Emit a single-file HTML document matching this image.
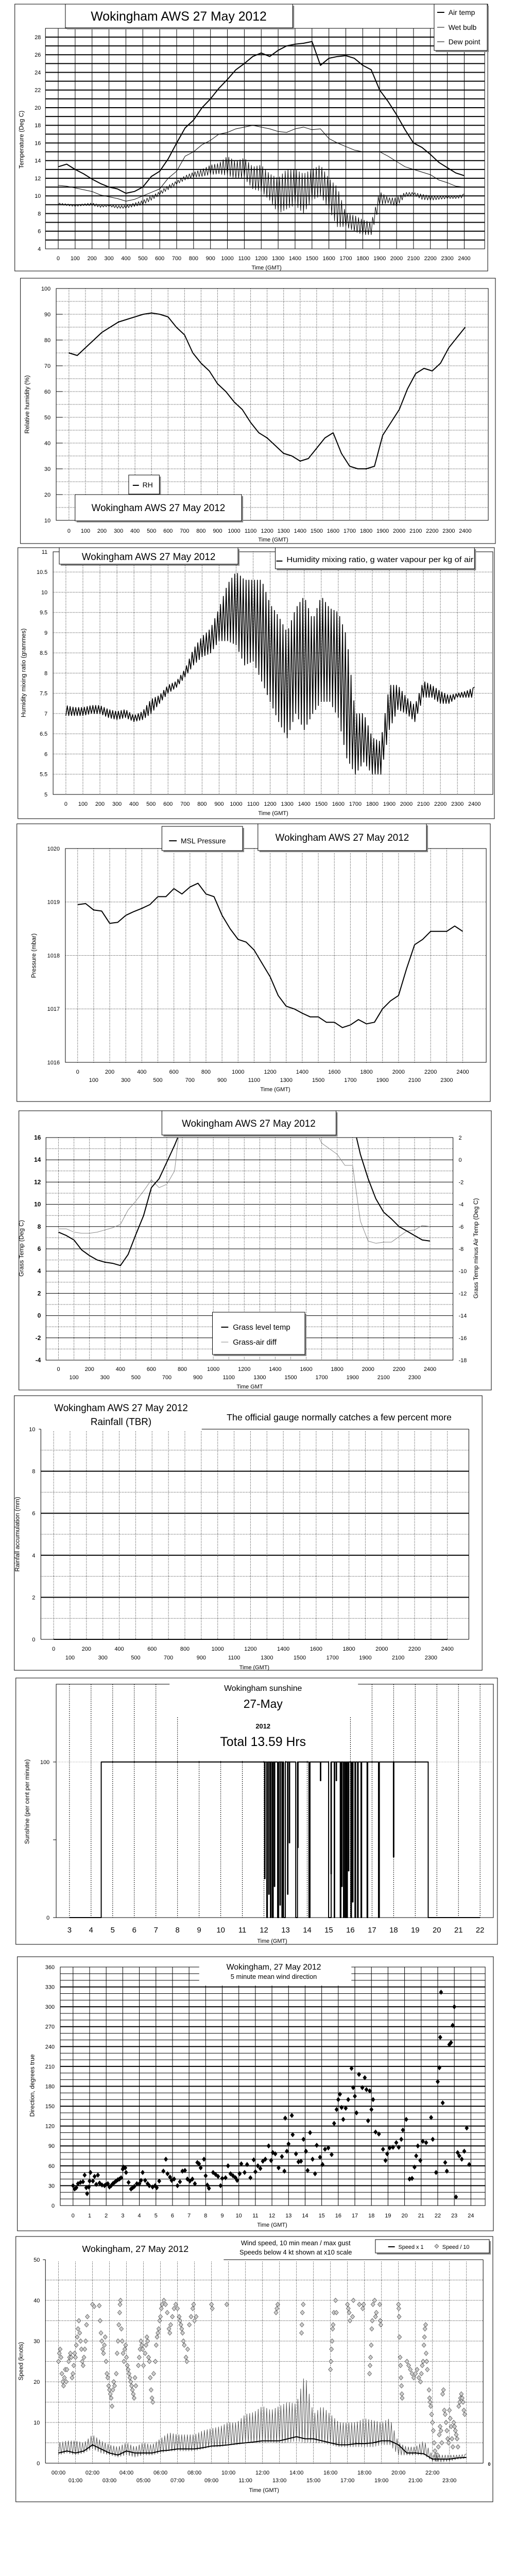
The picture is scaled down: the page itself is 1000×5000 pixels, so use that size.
<!DOCTYPE html>
<html><head><meta charset="utf-8">
<style>
body{margin:0;background:#fff}
svg{display:block;font-family:"Liberation Sans",Arial,sans-serif}
</style></head>
<body>
<svg id="page" width="1000" height="5000" viewBox="0 0 1000 5000">
<rect x="0" y="0" width="1000" height="5000" fill="#fff"/>
</svg>
<script>
// ---------- DATA ----------
const halfHours=[0,0.5,1,1.5,2,2.5,3,3.5,4,4.5,5,5.5,6,6.5,7,7.5,8,8.5,9,9.5,10,10.5,11,11.5,12,12.5,13,13.5,14,14.5,15,15.5,16,16.5,17,17.5,18,18.5,19,19.5,20,20.5,21,21.5,22,22.5,23,23.5,24];
const timeTicks=[0,100,200,300,400,500,600,700,800,900,1000,1100,1200,1300,1400,1500,1600,1700,1800,1900,2000,2100,2200,2300,2400];
// Panel 1 temperature
const tempTicks=[4,6,8,10,12,14,16,18,20,22,24,26,28];
const airTemp=[13.3,13.6,13.0,12.5,11.9,11.4,11.0,10.8,10.3,10.5,11.0,12.2,12.8,14.2,16.0,17.7,18.6,20.0,21.0,22.2,23.2,24.3,25.0,25.8,26.2,25.8,26.5,27.0,27.2,27.3,27.5,24.8,25.6,25.8,25.9,25.6,24.8,24.3,22.0,20.7,19.2,17.5,16.0,15.5,14.7,13.8,13.2,12.6,12.3];
const wetBulb=[11.2,11.1,10.9,10.7,10.5,10.1,9.9,9.7,9.4,9.6,10.0,10.4,10.8,12.0,12.8,14.5,15.0,15.8,16.3,17.0,17.2,17.6,17.8,18.0,17.8,17.6,17.3,17.2,17.6,17.8,17.5,17.6,16.5,16.0,15.6,15.2,15.0,15.0,15.0,14.5,13.9,13.3,13.0,12.7,12.4,11.8,11.5,11.1,11.0];
const dewHi=[9.2,9.1,9.0,9.1,9.2,9.0,9.0,8.9,8.9,9.2,9.5,10.0,10.5,11.2,11.7,12.3,12.7,13.0,13.5,13.7,14.5,13.9,14.3,13.3,13.5,12.5,12.0,13.0,13.0,12.5,13.0,13.5,12.0,11.0,8.0,7.8,7.3,7.0,10.5,9.8,9.8,10.4,10.4,10.2,10.0,10.0,10.0,10.0,10.2];
const dewLo=[9.0,8.9,8.8,8.9,8.9,8.7,8.8,8.6,8.6,8.8,9.0,9.5,10.1,10.7,11.3,11.8,12.1,12.2,12.4,12.5,12.3,12.0,12.0,10.8,10.5,9.5,8.0,8.5,9.0,8.0,9.5,10.0,8.5,6.5,6.5,6.0,5.6,5.6,9.0,9.2,8.8,9.9,10.1,9.6,9.5,9.6,9.7,9.7,9.8];
// Panel 2 RH
const rhTicks=[10,20,30,40,50,60,70,80,90,100];
const relHum=[75,74,77,80,83,85,87,88,89,90,90.5,90,89,85,82,75,71,68,63,60,56,53,48,44,42,39,36,35,33,34,38,42,44,36,31,30,30,31,43,48,53,61,67,69,68,71,77,81,85];
// Panel 3 mixing ratio
const mixTicks=[5,5.5,6,6.5,7,7.5,8,8.5,9,9.5,10,10.5,11];
const mixHi=[7.2,7.15,7.15,7.2,7.2,7.1,7.05,7.1,6.95,7.05,7.35,7.45,7.7,7.8,8.1,8.6,8.9,9.1,9.6,10.2,10.5,10.3,10.3,10.3,9.7,9.4,9.0,9.6,9.9,9.3,9.9,9.6,9.5,8.9,7.0,7.0,6.4,6.3,7.7,7.7,7.4,7.2,7.8,7.7,7.55,7.45,7.5,7.55,7.65];
const mixLo=[6.95,6.95,6.95,7.0,7.0,6.9,6.85,6.9,6.8,6.85,7.0,7.25,7.5,7.65,7.9,8.2,8.4,8.5,8.8,8.8,8.7,8.2,8.3,7.8,7.3,6.8,6.4,7.0,6.6,7.0,7.3,7.3,6.9,5.9,5.5,5.8,5.5,5.5,6.6,7.1,7.0,6.8,7.4,7.4,7.25,7.25,7.4,7.4,7.4];
// Panel 4 pressure
const presTicks=[1016,1017,1018,1019,1020];
const pressure=[1018.95,1018.97,1018.85,1018.83,1018.6,1018.62,1018.75,1018.82,1018.88,1018.95,1019.1,1019.1,1019.25,1019.15,1019.28,1019.35,1019.15,1019.1,1018.75,1018.5,1018.3,1018.25,1018.1,1017.85,1017.6,1017.25,1017.05,1017.0,1016.92,1016.85,1016.85,1016.75,1016.75,1016.65,1016.7,1016.8,1016.72,1016.75,1017.0,1017.15,1017.25,1017.75,1018.2,1018.3,1018.45,1018.45,1018.45,1018.55,1018.45];
// Panel 5 grass
const grassTicks=[-4,-2,0,2,4,6,8,10,12,14,16];
const diffTicks=[-18,-16,-14,-12,-10,-8,-6,-4,-2,0,2];
const grassTemp=[7.5,7.2,6.8,5.9,5.4,5.0,4.8,4.7,4.5,5.5,7.3,9.0,11.5,12.3,13.8,15.3,17,18,19,20,20,20,20,20,20,20,20,20,20,20,20,20,20,20,20,20,20,20,17.5,14.5,12.3,10.5,9.3,8.7,8.0,7.6,7.2,6.8,6.7];
const grassDiff=[-6.2,-6.2,-6.5,-6.6,-6.6,-6.5,-6.3,-6.1,-5.8,-4.5,-3.7,-2.8,-1.8,-2.5,-2.2,-1.0,5,5,5,5,5,5,5,5,5,5,5,5,5,5,5,5,5,3,1.5,1.0,0.5,-0.5,-0.5,-5.5,-7.3,-7.5,-7.4,-7.4,-6.9,-6.4,-6.3,-5.9,-6.0];
// Panel 6 rain
const rainTicks=[0,2,4,6,8,10];
const rainTotal=[0,0,0,0,0,0,0,0,0,0,0,0,0,0,0,0,0,0,0,0,0,0,0,0,0,0,0,0,0,0,0,0,0,0,0,0,0,0,0,0,0,0,0,0,0,0,0,0,0];
// Panel 7 sunshine
const sunHourTicks=[3,4,5,6,7,8,9,10,11,12,13,14,15,16,17,18,19,20,21,22];
const sunRise=4.47, sunSet=19.6;
const dipHours=[12.03,12.13,12.22,12.3,12.39,12.48,12.63,12.74,12.83,12.91,13.09,13.17,13.47,13.56,14.08,14.61,14.99,15.1,15.25,15.34,15.53,15.6,15.68,15.76,15.83,15.91,16.02,16.1,16.21,16.33,16.49,16.77,17.3,17.99];
const dipValues=[25,0,15,0,0,20,0,8,0,0,15,48,0,45,0,88,0,28,0,88,0,20,0,0,0,30,0,10,0,0,0,0,0,39];
const dipDurations=[0.02,0.03,0.02,0.03,0.04,0.02,0.05,0.02,0.03,0.08,0.02,0.02,0.08,0.02,0.05,0.02,0.12,0.02,0.02,0.02,0.03,0.02,0.03,0.03,0.03,0.02,0.03,0.02,0.03,0.03,0.03,0.03,0.04,0.02];
// Panel 8 wind direction
const dirTicks=[0,30,60,90,120,150,180,210,240,270,300,330,360];
const hourTicks=[0,1,2,3,4,5,6,7,8,9,10,11,12,13,14,15,16,17,18,19,20,21,22,23,24];
const dirHours=[0.0,0.1,0.2,0.3,0.45,0.6,0.7,0.8,0.85,0.95,
1.0,1.05,1.2,1.3,1.4,1.5,1.6,1.75,1.9,2.0,
2.1,2.2,2.3,2.4,2.5,2.6,2.7,2.8,2.9,3.0,
3.05,3.15,3.2,3.35,3.5,3.6,3.7,3.85,4.0,4.1,
4.2,4.35,4.5,4.6,4.8,4.95,5.05,5.2,5.45,5.6,
5.7,5.85,5.95,6.1,6.3,6.45,6.6,6.75,6.9,7.05,
7.2,7.35,7.5,7.6,7.7,7.9,8.0,8.1,8.2,8.45,
8.6,8.75,8.9,9.0,9.2,9.35,9.5,9.65,9.8,9.9,
10.05,10.15,10.35,10.5,10.7,10.9,11.0,11.15,11.3,11.45,
11.6,11.8,11.95,12.05,12.2,12.4,12.6,12.75,12.8,12.9,
13.0,13.2,13.25,13.45,13.6,13.75,13.9,14.05,14.15,14.3,
14.45,14.6,14.7,14.9,15.05,15.2,15.4,15.6,15.75,15.9,
16.0,16.1,16.2,16.3,16.45,16.6,16.8,16.9,17.0,17.1,
17.25,17.45,17.6,17.7,17.8,17.9,18.0,18.1,18.25,18.45,
18.7,18.85,18.95,19.1,19.3,19.5,19.65,19.8,19.9,20.1,
20.3,20.45,20.6,20.7,20.8,20.95,21.1,21.3,21.6,21.7,
21.9,22.0,22.1,22.15,22.2,22.3,22.45,22.55,22.7,22.8,
22.9,23.0,23.1,23.2,23.3,23.45,23.6,23.75,23.9];
const dirDegrees=[30,25,27,33,35,36,46,27,18,28,
37,50,37,44,32,46,34,31,30,32,
33,28,30,33,35,37,39,40,42,55,
58,57,50,35,25,27,29,33,33,38,
50,38,33,30,28,30,27,37,52,70,
48,43,38,40,30,36,52,53,40,37,
40,33,65,63,57,70,45,31,26,50,
47,44,30,41,42,60,48,45,42,38,
48,63,50,62,42,69,51,60,56,67,
70,90,68,80,78,57,74,52,132,82,
93,136,107,78,66,67,100,82,53,110,
70,48,91,73,62,85,87,77,124,145,
160,168,148,130,147,160,207,178,165,140,
198,178,193,175,128,173,145,160,111,108,
85,68,78,87,88,95,88,100,114,130,
40,41,58,75,90,68,97,95,133,100,
50,187,208,254,322,155,65,52,243,246,
272,300,13,80,75,70,82,117,62];
// Panel 9 wind speed
const speedTicks=[0,10,20,30,40,50];
const clockLabels=['00:00','01:00','02:00','03:00','04:00','05:00','06:00','07:00','08:00','09:00','10:00','11:00','12:00','13:00','14:00','15:00','16:00','17:00','18:00','19:00','20:00','21:00','22:00','23:00'];
const windMean=[2.5,3,2.5,3,4.5,3.5,2.5,2,3,2.5,2.5,2.5,3.0,3.2,3.5,3.5,3.5,3.8,4.2,4.3,4.5,4.8,5,5.2,5.5,5.5,5.5,6,6.5,6,6,5.5,5,4.5,4.5,4.8,4.8,5,5.5,5.5,4.5,2.5,2.5,2.3,1.0,1.0,1.0,1.3,1.4];
const gustHi=[5,5.5,5.5,5,7,5.5,4.5,4,5,4,5,4.5,6,7.5,7,7,7,8,8.5,9,10,10,12,12.5,14,13,14,15,14.5,22,12,14,12,10,10,10,11,10.5,10,11,5,4,4,5.5,2,2,2,2,2.2];
const gustLo=[2,2.5,2,2.5,3.5,2.5,2,1.5,2,1.5,2,2,2.5,3,3,3,3,3.5,4,4,4.5,4.5,5,5,5,5,5,5,5.5,5,5,5,4.5,4,4,4,4,4,4.5,4.5,2,2,2,2,0.5,0.3,0.5,1,1.2];
const lightHours=[0.0,0.05,0.1,0.15,0.2,0.25,0.3,0.35,0.4,0.45,
0.5,0.6,0.65,0.7,0.75,0.8,0.85,0.9,0.95,1.0,
1.05,1.1,1.15,1.2,1.25,1.3,1.35,1.4,1.45,1.5,
1.55,1.6,1.65,1.7,2.0,2.1,2.4,2.45,2.5,2.55,
2.6,2.65,2.7,2.75,2.8,2.85,2.9,2.95,3.0,3.05,
3.1,3.15,3.2,3.25,3.3,3.4,3.45,3.5,3.55,3.6,
3.62,3.65,3.7,3.75,3.8,3.85,3.9,3.95,4.0,4.05,
4.1,4.15,4.2,4.25,4.3,4.35,4.4,4.45,4.5,4.55,
4.7,4.75,4.8,4.85,4.9,4.95,5.0,5.1,5.15,5.2,
5.25,5.3,5.35,5.4,5.45,5.5,5.55,5.6,5.7,5.75,
5.8,5.85,5.9,5.95,6.0,6.05,6.1,6.2,6.3,6.4,
6.5,6.55,6.6,6.7,6.8,6.9,7.0,7.1,7.15,7.2,
7.25,7.3,7.35,7.4,7.5,7.55,7.6,7.7,7.8,7.9,
7.95,8.0,8.1,9.0,9.05,9.9,12.8,12.85,12.9,14.3,
14.32,14.35,14.4,16.0,16.03,16.06,16.1,16.13,16.16,16.2,
16.3,16.35,17.0,17.05,17.1,17.15,17.3,17.35,17.7,17.9,
17.95,18.3,18.33,18.36,18.4,18.43,18.46,18.5,18.6,18.65,
18.7,18.9,18.93,18.96,20.0,20.02,20.04,20.06,20.1,20.12,
20.15,20.18,20.2,20.22,20.5,20.6,20.7,20.8,20.9,21.0,
21.1,21.2,21.3,21.35,21.4,21.45,21.5,21.53,21.56,21.6,
21.63,21.66,21.7,21.8,21.83,21.86,21.9,21.95,22.0,22.05,
22.1,22.15,22.2,22.25,22.3,22.35,22.4,22.45,22.5,22.55,
22.6,22.65,22.7,22.75,22.8,22.85,22.9,22.95,23.0,23.05,
23.1,23.15,23.2,23.25,23.3,23.35,23.4,23.45,23.5,23.55,
23.6,23.65,23.7,23.75,23.8,23.85,23.9];
const lightSpeedX10=[25,27,28,26,22,20,19,21,23,20,
23,25,26,27,26,21,22,24,27,26,
29,31,33,35,32,30,28,25,24,26,
28,30,34,36,39,38.5,38.7,35,32,30,
28,27,29,31,25,22,21,19,18,17,
16,14,18,20,19,22,27,30,34,37,
39,40,33,30,27,25,28,29,26,24,
23,22,21,20,19,18,17,16,21,19,
24,26,28,30,29,28,24,27,29,31,
30,26,25,21,18,16,15,22,25,29,
31,32,33,35,36,38,39,40,39,37,
33,32,34,36,38,39,38,36,35,34,
33,32,30,29,26,25,28,34,36,38,
39,35,36,39,38,39,37,38,39,32,
34,37,39,23,25,28,30,33,34,37,
40,37,39,38,37,35,36,40,39,38,
39,22,24,26,29,33,35,39,40,36,
37,39,35,34,39,38,36,31,26,24,
21,19,17,16,25,24,23,22,21,22,
23,21,20,22,24,25,29,31,33,34,
27,25,23,18,16,15,14,12,10,8,
5,3,2,1,2,4,7,9,8,5,
17,18,13,12,10,8,6,5,13,11,
9,6,4,10,9,8,7,6,4,14,
15,16,17,16,15,13,12];

// ---------- HELPERS ----------
const NS='http://www.w3.org/2000/svg';
const svgRoot=document.getElementById('page');
const root=document.createElementNS(NS,'g');
root.setAttribute('transform','scale(0.9917 1)');


svgRoot.appendChild(root);
function mk(tag,attrs,parent,name){
  const e=document.createElementNS(NS,tag);
  for(const k in attrs) e.setAttribute(k,attrs[k]);
  
  
  (parent||root).appendChild(e);
  return e;
}
const defs=mk('defs',{},root,'clip-definitions');
function clipRect(id,x,y,w,h){const c=mk('clipPath',{id:id},defs,id);mk('rect',{x:x,y:y,width:w,height:h},c,id+'-rect');}
function grp(name){return mk('g',{},root,name);}
function rect(p,x,y,w,h,name,fill,stroke,sw){return mk('rect',{x:x,y:y,width:w,height:h,fill:fill||'#fff',stroke:stroke||'#000','stroke-width':sw||1},p,name);}
function shadowBox(p,x,y,w,h,name){mk('rect',{x:x+3,y:y+3,width:w,height:h,fill:'#888'},p,name+'-shadow');return rect(p,x,y,w,h,name);}
function line(p,x1,y1,x2,y2,name,stroke,sw,dash){const a={x1:x1,y1:y1,x2:x2,y2:y2,stroke:stroke||'#000','stroke-width':sw||1};if(dash)a['stroke-dasharray']=dash;return mk('line',a,p,name);}
function text(p,x,y,s,size,name,anchor,extra){const t=mk('text',Object.assign({x:x,y:y,'font-size':size,'text-anchor':anchor||'middle',fill:'#000'},extra||{}),p,name);t.textContent=s;return t;}
function vtext(p,x,y,s,size,name){return text(p,x,y,s,size,name,'middle',{transform:'rotate(-90 '+x+' '+y+')'});}
function lin(d0,d1,r0,r1){return function(v){return r0+(v-d0)*(r1-r0)/(d1-d0);};}
function pathD(xs,ys,fx,fy){return xs.map(function(x,i){return (i?'L':'M')+fx(x).toFixed(1)+' '+fy(ys[i]).toFixed(1);}).join('');}
function series(p,xs,ys,fx,fy,name,stroke,sw,clip){const a={d:pathD(xs,ys,fx,fy),fill:'none',stroke:stroke,'stroke-width':sw,'stroke-linejoin':'round'};if(clip)a['clip-path']='url(#'+clip+')';return mk('path',a,p,name);}
function zig(xs,lo,hi,sub){const X=[],Y=[];for(let i=0;i<xs.length-1;i++){for(let k=0;k<sub;k++){const f=k/sub;X.push(xs[i]+f*(xs[i+1]-xs[i]));const l=lo[i]+f*(lo[i+1]-lo[i]);const h=hi[i]+f*(hi[i+1]-hi[i]);Y.push(k%2?h:l);}}X.push(xs[xs.length-1]);Y.push(hi[hi.length-1]);return [X,Y];}
const DOT='1,2';

// ---------- PANEL 1: TEMPERATURE ----------
(function(){
const g=grp('temperature-panel');
rect(g,29,8,926,518,'temperature-panel-border');
const X=lin(0,24,114,909), Y=lin(4,28,483,72);
rect(g,89,55,860,428,'temperature-plot-area');
clipRect('clip-temp',89,55,860,428);
for(let v=5;v<=28;v++) line(g,89,Y(v),949,Y(v),'temp-gridline-'+v,'#000',2);
timeTicks.forEach(function(t){line(g,X(t/100),55,X(t/100),483,'temp-vgrid-'+t,'#000',1);});
tempTicks.forEach(function(v){text(g,80,Y(v)+4,String(v),11,'temp-ytick-'+v,'end');});
timeTicks.forEach(function(t){text(g,X(t/100),505,String(t),11,'temp-xtick-'+t);});
text(g,522,523,'Time (GMT)',11,'temp-x-axis-title');
vtext(g,46,271,'Temperature (Deg C)',12,'temp-y-axis-title');
const dz=zig(halfHours,dewLo,dewHi,6);
series(g,dz[0],dz[1],X,Y,'dew-point-line','#000',1,'clip-temp');
series(g,halfHours,wetBulb,X,Y,'wet-bulb-line','#000',1,'clip-temp');
series(g,halfHours,airTemp,X,Y,'air-temp-line','#000',2,'clip-temp');
shadowBox(g,128,8,445,46,'temperature-title-box');
text(g,350,40,'Wokingham AWS 27 May 2012',25,'temperature-title');
shadowBox(g,850,8,104,90,'temperature-legend');
line(g,856,24,870,24,'legend-air-temp-swatch','#000',2);
text(g,878,29,'Air temp',14,'legend-air-temp','start');
line(g,856,53,870,53,'legend-wet-bulb-swatch','#000',1);
text(g,878,58,'Wet bulb',14,'legend-wet-bulb','start');
line(g,856,81,870,81,'legend-dew-point-swatch','#000',1);
text(g,878,86,'Dew point',14,'legend-dew-point','start');
})();

// ---------- PANEL 2: RH ----------
(function(){
const g=grp('humidity-panel');
rect(g,40,540,930,515,'humidity-panel-border');
const X=lin(0,24,135,911), Y=lin(10,100,1010,560);
rect(g,110,560,846,450,'humidity-plot-area');
clipRect('clip-rh',110,560,846,450);
for(let v=15;v<100;v+=5) line(g,110,Y(v),956,Y(v),'rh-gridline-'+v,'#000',1,DOT);
timeTicks.forEach(function(t){line(g,X(t/100),560,X(t/100),1010,'rh-vgrid-'+t,'#000',1,DOT);});
rhTicks.forEach(function(v){line(g,110,Y(v),122,Y(v),'rh-ytick-mark-'+v,'#000',1);text(g,99,Y(v)+4,String(v),11,'rh-ytick-'+v,'end');});
timeTicks.forEach(function(t){text(g,X(t/100),1034,String(t),11,'rh-xtick-'+t);});
text(g,535,1051,'Time (GMT)',11,'rh-x-axis-title');
vtext(g,57,785,'Relative humidity (%)',12,'rh-y-axis-title');
series(g,halfHours,relHum,X,Y,'rh-line','#000',2,'clip-rh');
shadowBox(g,252,922,60,37,'rh-legend');
line(g,260,942,272,942,'rh-legend-swatch','#000',2);
text(g,279,946,'RH',14,'rh-legend-label','start');
shadowBox(g,147,960,326,51,'rh-title-box');
text(g,310,992,'Wokingham AWS 27 May 2012',19,'rh-title');
})();

// ---------- PANEL 3: MIXING RATIO ----------
(function(){
const g=grp('mixing-ratio-panel');
rect(g,35,1063,933,526,'mixing-panel-border');
const X=lin(0,24,129,929), Y=lin(5,11,1542,1071);
rect(g,104,1071,861,471,'mixing-plot-area');
clipRect('clip-mix',104,1071,861,471);
mixTicks.forEach(function(v){line(g,104,Y(v),965,Y(v),'mix-gridline-'+v,'#000',1,DOT);text(g,93,Y(v)+4,String(v),11,'mix-ytick-'+v,'end');});
timeTicks.forEach(function(t){line(g,X(t/100),1071,X(t/100),1542,'mix-vgrid-'+t,'#000',1,DOT);text(g,X(t/100),1564,String(t),11,'mix-xtick-'+t);});
text(g,535,1582,'Time (GMT)',11,'mix-x-axis-title');
vtext(g,50,1306,'Humidity mixing ratio (grammes)',12,'mix-y-axis-title');
const mz=zig(halfHours,mixLo,mixHi,6);
series(g,mz[0],mz[1],X,Y,'mixing-ratio-line','#000',1.6,'clip-mix');
shadowBox(g,116,1063,350,32,'mix-title-box');
text(g,291,1087,'Wokingham AWS 27 May 2012',19,'mix-title');
shadowBox(g,539,1063,390,41,'mix-legend');
line(g,541,1089,553,1089,'mix-legend-swatch','#000',2);
text(g,561,1091,'Humidity mixing ratio, g water vapour per kg of air',15,'mix-legend-label','start',{textLength:366,lengthAdjust:'spacingAndGlyphs'});
})();

// ---------- PANEL 4: PRESSURE ----------
(function(){
const g=grp('pressure-panel');
rect(g,33,1599,927,539,'pressure-panel-border');
const X=lin(0,24,152,906), Y=lin(1016,1020,2062,1647);
rect(g,128,1647,824,415,'pressure-plot-area');
clipRect('clip-pres',128,1647,824,415);
presTicks.forEach(function(v){line(g,128,Y(v),952,Y(v),'pres-gridline-'+v,'#000',1,DOT);text(g,117,Y(v)+4,String(v),11,'pres-ytick-'+v,'end');});
timeTicks.forEach(function(t,i){line(g,X(t/100),1647,X(t/100),2062,'pres-vgrid-'+t,'#000',1,DOT);text(g,X(t/100),(i%2?2100:2084),String(t),11,'pres-xtick-'+t);});
text(g,539,2118,'Time (GMT)',11,'pres-x-axis-title');
vtext(g,70,1855,'Pressure (mbar)',12,'pres-y-axis-title');
series(g,halfHours,pressure,X,Y,'pressure-line','#000',2,'clip-pres');
shadowBox(g,317,1604,158,47,'pressure-legend');
line(g,331,1632,346,1632,'pressure-legend-swatch','#000',2);
text(g,354,1637,'MSL Pressure',14,'pressure-legend-label','start');
shadowBox(g,505,1599,330,52,'pressure-title-box');
text(g,670,1632,'Wokingham AWS 27 May 2012',19,'pressure-title');
})();

// ---------- PANEL 5: GRASS ----------
(function(){
const g=grp('grass-panel');
rect(g,37,2156,925,542,'grass-panel-border');
const X=lin(0,24,114.5,842), Y=lin(-4,16,2640,2208), YR=lin(-18,2,2640,2208);
rect(g,90,2208,797,432,'grass-plot-area');
clipRect('clip-grass',90,2208,797,432);
for(let v=-3;v<16;v+=2) line(g,90,Y(v),887,Y(v),'grass-dotted-gridline-'+v,'#000',1,DOT);
grassTicks.forEach(function(v){line(g,90,Y(v),887,Y(v),'grass-gridline-'+v,'#000',1);text(g,80,Y(v)+4,String(v),12,'grass-ytick-'+v,'end',{'font-weight':'bold'});});
diffTicks.forEach(function(v){text(g,898,YR(v)+4,String(v),11,'grass-diff-ytick-'+v,'start');});
timeTicks.forEach(function(t,i){line(g,X(t/100),2208,X(t/100),2640,'grass-vgrid-'+t,'#000',1,DOT);text(g,X(t/100),(i%2?2677:2661),String(t),11,'grass-xtick-'+t);});
text(g,489,2695,'Time GMT',11,'grass-x-axis-title');
vtext(g,46,2423,'Grass Temp (Deg C)',12,'grass-y-axis-title');
vtext(g,936,2423,'Grass Temp minus Air Temp (Deg C)',12,'grass-diff-axis-title');
series(g,halfHours,grassDiff,X,YR,'grass-air-diff-line','#888',1,'clip-grass');
series(g,halfHours,grassTemp,X,Y,'grass-temp-line','#000',2,'clip-grass');
shadowBox(g,317,2156,341,47,'grass-title-box');
text(g,487,2187,'Wokingham AWS 27 May 2012',19,'grass-title');
shadowBox(g,416,2547,181,82,'grass-legend');
line(g,433,2576,447,2576,'grass-legend-temp-swatch','#000',2);
text(g,456,2581,'Grass level temp',15,'grass-legend-temp','start');
line(g,433,2605,447,2605,'grass-legend-diff-swatch','#888',1);
text(g,456,2610,'Grass-air diff',15,'grass-legend-diff','start');
})();

// ---------- PANEL 6: RAIN ----------
(function(){
const g=grp('rainfall-panel');
rect(g,28,2709,916,533,'rain-panel-border');
const X=lin(0,24,105,876), Y=lin(0,10,3182,2774);
line(g,80,2774,80,3182,'rain-y-axis','#000',1);
line(g,80,3182,918,3182,'rain-x-axis','#000',1);
line(g,918,2774,918,3182,'rain-right-axis','#000',1);
line(g,395,2774,918,2774,'rain-top-axis','#000',1);
line(g,76,2774,80,2774,'rain-top-tick','#000',1);
for(let v=1;v<10;v+=2) line(g,80,Y(v),918,Y(v),'rain-dotted-gridline-'+v,'#000',1,DOT);
[2,4,6,8].forEach(function(v){line(g,80,Y(v),918,Y(v),'rain-gridline-'+v,'#000',2);});
timeTicks.forEach(function(t,i){line(g,X(t/100),2778,X(t/100),3182,'rain-vgrid-'+t,'#000',1,DOT);text(g,X(t/100),(i%2?3221:3204),String(t),11,'rain-xtick-'+t);});
rainTicks.forEach(function(v){text(g,69,Y(v)+4,String(v),11,'rain-ytick-'+v,'end');});
text(g,498,3240,'Time (GMT)',11,'rain-x-axis-title');
vtext(g,38,2978,'Rainfall accumulation (mm)',12,'rain-y-axis-title');
series(g,halfHours,rainTotal,X,Y,'rain-accumulation-line','#000',2);
text(g,237,2739,'Wokingham AWS 27 May 2012',19,'rain-title');
text(g,237,2766,'Rainfall (TBR)',19,'rain-subtitle');
text(g,664,2757,'The official gauge normally catches a few percent more',18,'rain-note');
})();

// ---------- PANEL 7: SUNSHINE ----------
(function(){
const g=grp('sunshine-panel');
rect(g,31,3257,943,517,'sunshine-panel-border');
const X=lin(3,22,136,940), Y=lin(0,100,3722,3420);
rect(g,110,3269,856,453,'sunshine-plot-area');
line(g,110,Y(100),966,Y(100),'sun-gridline-100','#888',1,DOT);
sunHourTicks.forEach(function(h){line(g,X(h),3269,X(h),3722,'sun-vgrid-'+h,'#000',1,'2,2');text(g,X(h),3751,String(h),15,'sun-xtick-'+h);});
[0,50,100].forEach(function(v){line(g,104,Y(v),110,Y(v),'sun-ytick-mark-'+v,'#000',1);});
text(g,97,Y(100)+4,'100',11,'sun-ytick-100','end');
text(g,97,Y(0)+4,'0',11,'sun-ytick-0','end');
text(g,533,3771,'Time (GMT)',11,'sun-x-axis-title');
vtext(g,57,3497,'Sunshine (per cent per minute)',12,'sun-y-axis-title');
mk('rect',{x:332,y:3262,width:369,height:71,fill:'#fff'},g,'sun-title-mask');
mk('rect',{x:349,y:3262,width:336,height:156,fill:'#fff'},g,'sun-title-mask-lower');
const xs=[3,sunRise,sunRise], ys=[0,0,100];
dipHours.forEach(function(h,i){xs.push(h,h,h+dipDurations[i],h+dipDurations[i]);ys.push(100,dipValues[i],dipValues[i],100);});
xs.push(sunSet,sunSet,22);ys.push(100,0,0);
series(g,xs,ys,X,Y,'sunshine-line','#000',2);
text(g,515,3282,'Wokingham sunshine',16,'sun-title');
text(g,515,3315,'27-May',23,'sun-date');
text(g,515,3355,'2012',13,'sun-year','middle',{'font-weight':'bold'});
text(g,515,3389,'Total 13.59 Hrs',25,'sun-total');
})();

// ---------- PANEL 8: WIND DIRECTION ----------
(function(){
const g=grp('wind-direction-panel');
rect(g,34,3798,932,532,'wind-dir-panel-border');
const X=lin(0,24,143,922), Y=lin(0,360,4281,3818);
rect(g,118,3818,832,463,'wind-dir-plot-area');
for(let v=10;v<360;v+=10) line(g,118,Y(v),950,Y(v),'dir-minor-gridline-'+v,'#000',1);
dirTicks.forEach(function(v){if(v>0&&v<360)line(g,118,Y(v),950,Y(v),'dir-gridline-'+v,'#000',2);text(g,107,Y(v)+4,String(v),11,'dir-ytick-'+v,'end');});
hourTicks.forEach(function(h){line(g,X(h),3818,X(h),4281,'dir-vgrid-'+h,'#000',1);text(g,X(h),4304,String(h),11,'dir-xtick-'+h);});
text(g,533,4322,'Time (GMT)',11,'dir-x-axis-title');
vtext(g,67,4048,'Direction, degrees true',12,'dir-y-axis-title');
mk('rect',{x:390,y:3806,width:298,height:48,fill:'#fff'},g,'dir-title-mask');
text(g,536,3823,'Wokingham,  27 May 2012',16,'dir-title');
text(g,536,3841,'5 minute mean wind direction',13,'dir-subtitle');
dirHours.forEach(function(h,i){
  const cx=X(h), cy=Y(dirDegrees[i]);
  const d=mk('path',{d:'M'+cx+' '+(cy-5)+'L'+(cx+4)+' '+cy+'L'+cx+' '+(cy+5)+'L'+(cx-4)+' '+cy+'Z',fill:'#000'},g,'dir-point');
});
})();

// ---------- PANEL 9: WIND SPEED ----------
(function(){
const g=grp('wind-speed-panel');
rect(g,31,4341,934,515,'wind-speed-panel-border');
const X=lin(0,23,114.5,880), Y=lin(0,50,4781,4386);
line(g,89,4386,89,4781,'speed-y-axis','#000',1);
line(g,89,4781,946,4781,'speed-x-axis','#000',1);
line(g,946,4386,946,4781,'speed-right-axis','#000',1);
line(g,438,4386,946,4386,'speed-top-axis','#000',1);
line(g,84,4386,89,4386,'speed-top-tick','#000',1);
clipRect('clip-speed',89,4386,857,395);
for(let v=5;v<50;v+=5) line(g,89,Y(v),946,Y(v),'speed-gridline-'+v,'#000',1,DOT);
speedTicks.forEach(function(v){text(g,78,Y(v)+4,String(v),11,'speed-ytick-'+v,'end');});
clockLabels.forEach(function(s,h){line(g,X(h),4390,X(h),4781,'speed-vgrid-'+h,'#000',1,DOT);text(g,X(h),(h%2?4818:4803),s,11,'speed-xtick-'+h);});
line(g,X(24),4390,X(24),4781,'speed-vgrid-24','#000',1,DOT);
text(g,958,4786,'0',9,'speed-right-zero','middle',{'font-weight':'bold'});
text(g,517,4837,'Time (GMT)',11,'speed-x-axis-title');
vtext(g,45,4583,'Speed (knots)',12,'speed-y-axis-title');
lightHours.forEach(function(h,i){
  const cx=X(h), cy=Y(lightSpeedX10[i]);
  const d=mk('path',{d:'M'+cx+' '+(cy-4.5)+'L'+(cx+4)+' '+cy+'L'+cx+' '+(cy+4.5)+'L'+(cx-4)+' '+cy+'Z',fill:'#ccc',stroke:'#444','stroke-width':0.7},g,'speed-x10-point');
});
const gz=zig(halfHours,gustLo,gustHi,6);
series(g,gz[0],gz[1],X,Y,'gust-speed-line','#555',1,'clip-speed');
series(g,halfHours,windMean,X,Y,'mean-speed-line','#000',2,'clip-speed');
text(g,265,4371,'Wokingham,  27 May 2012',18,'speed-title');
text(g,579,4358,'Wind speed, 10 min mean / max gust',13,'speed-subtitle-1');
text(g,579,4376,'Speeds below 4 kt shown at x10 scale',13,'speed-subtitle-2');
shadowBox(g,735,4347,223,26,'speed-legend');
line(g,760,4361,773,4361,'speed-legend-mean-swatch','#000',2);
text(g,780,4365,'Speed x 1',11,'speed-legend-mean','start');
mk('path',{d:'M855 4356L859 4360L855 4364L851 4360Z',fill:'#ccc',stroke:'#444','stroke-width':0.7},g,'speed-legend-diamond');
text(g,866,4365,'Speed / 10',11,'speed-legend-x10','start');
})();
</script>
</body></html>
